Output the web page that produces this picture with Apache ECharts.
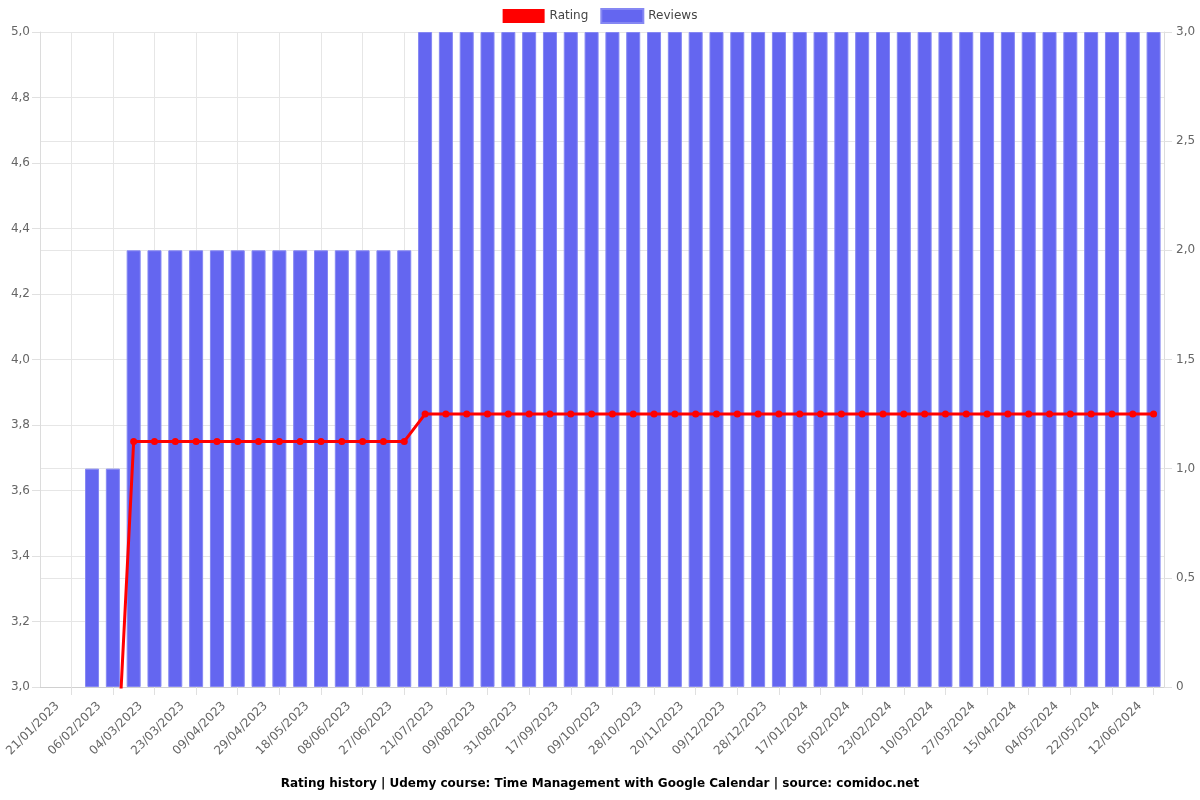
<!DOCTYPE html>
<html>
<head>
<meta charset="utf-8">
<script src="https://cdn.jsdelivr.net/npm/echarts@6/dist/echarts.min.js"></script>
<style>html,body{margin:0;padding:0;background:#fff}#c{width:1200px;height:800px}</style>
</head>
<body>
<div id="c"></div>
<script>
const categories = [
  '21/01/2023','29/01/2023','06/02/2023','20/02/2023','04/03/2023','13/03/2023',
  '23/03/2023','31/03/2023','09/04/2023','19/04/2023','29/04/2023','08/05/2023',
  '18/05/2023','28/05/2023','08/06/2023','17/06/2023','27/06/2023','09/07/2023',
  '21/07/2023','30/07/2023','09/08/2023','20/08/2023','31/08/2023','08/09/2023',
  '17/09/2023','28/09/2023','09/10/2023','18/10/2023','28/10/2023','08/11/2023',
  '20/11/2023','30/11/2023','09/12/2023','18/12/2023','28/12/2023','07/01/2024',
  '17/01/2024','26/01/2024','05/02/2024','14/02/2024','23/02/2024','02/03/2024',
  '10/03/2024','18/03/2024','27/03/2024','05/04/2024','15/04/2024','25/04/2024',
  '04/05/2024','13/05/2024','22/05/2024','01/06/2024','12/06/2024','20/06/2024'
];
const ratingValues = [
  null, null, 2.5, 2.5, 3.75, 3.75,
  3.75, 3.75, 3.75, 3.75, 3.75, 3.75,
  3.75, 3.75, 3.75, 3.75, 3.75, 3.75,
  3.8333, 3.8333, 3.8333, 3.8333, 3.8333, 3.8333,
  3.8333, 3.8333, 3.8333, 3.8333, 3.8333, 3.8333,
  3.8333, 3.8333, 3.8333, 3.8333, 3.8333, 3.8333,
  3.8333, 3.8333, 3.8333, 3.8333, 3.8333, 3.8333,
  3.8333, 3.8333, 3.8333, 3.8333, 3.8333, 3.8333,
  3.8333, 3.8333, 3.8333, 3.8333, 3.8333, 3.8333
];
const reviewValues = [
  null, null, 1, 1, 2, 2,
  2, 2, 2, 2, 2, 2,
  2, 2, 2, 2, 2, 2,
  3, 3, 3, 3, 3, 3,
  3, 3, 3, 3, 3, 3,
  3, 3, 3, 3, 3, 3,
  3, 3, 3, 3, 3, 3,
  3, 3, 3, 3, 3, 3,
  3, 3, 3, 3, 3, 3
];
const titleText = 'Rating history | Udemy course: Time Management with Google Calendar | source: comidoc.net';

const fmt = v => (v === 0 ? '0' : v.toFixed(1).replace('.', ','));
const oddIdx = i => i % 2 === 1;
const FONT = 'DejaVu Sans';

const chart = echarts.init(document.getElementById('c'), null, {renderer: 'canvas'});
chart.setOption({
  animation: false,
  backgroundColor: '#fff',
  textStyle: {fontFamily: FONT},
  title: {
    text: titleText, left: 'center', bottom: 5,
    textStyle: {fontFamily: FONT, fontSize: 12, fontWeight: 'bold', color: '#000'}
  },
  legend: {
    top: 3, left: 'center', itemWidth: 42, itemHeight: 14, itemGap: 12,
    textStyle: {fontFamily: FONT, fontSize: 12, color: '#444'},
    data: [
      {name: 'Rating', icon: 'rect', itemStyle: {color: '#ff0000'}},
      {name: 'Reviews', icon: 'rect', itemStyle: {color: '#6466f0'}}
    ]
  },
  grid: {left: 40, right: 36, top: 32, bottom: 113, containLabel: false, outerBoundsMode: 'none'},
  xAxis: {
    type: 'category', data: categories, boundaryGap: true,
    axisLine: {show: true, lineStyle: {color: '#d0d0d0'}},
    axisTick: {show: true, interval: oddIdx, alignWithLabel: true, length: 8, lineStyle: {color: '#e0e0e0'}},
    splitLine: {show: true, interval: oddIdx, alignWithLabel: true, lineStyle: {color: '#e6e6e6'}},
    axisLabel: {interval: 1, rotate: 45, fontSize: 12, color: '#666', fontFamily: FONT, margin: 10,
                verticalAlign: 'top', lineHeight: 20}
  },
  yAxis: [
    {
      type: 'value', min: 3, max: 5, interval: 0.2, position: 'left',
      axisLine: {show: true, lineStyle: {color: '#dcdcdc'}},
      axisTick: {show: true, length: 8, lineStyle: {color: '#e0e0e0'}},
      splitLine: {show: true, lineStyle: {color: '#e6e6e6'}},
      axisLabel: {formatter: fmt, fontSize: 12, color: '#666', fontFamily: FONT, margin: 10}
    },
    {
      type: 'value', min: 0, max: 3, interval: 0.5, position: 'right',
      axisLine: {show: true, lineStyle: {color: '#dcdcdc'}},
      axisTick: {show: true, length: 8, lineStyle: {color: '#e0e0e0'}},
      splitLine: {show: true, lineStyle: {color: '#e6e6e6'}},
      axisLabel: {formatter: fmt, fontSize: 12, color: '#666', fontFamily: FONT, margin: 12}
    }
  ],
  series: [
    {
      name: 'Rating', type: 'line', yAxisIndex: 0, data: ratingValues, z: 5,
      symbol: 'circle', symbolSize: 7, showAllSymbol: true, clip: true,
      lineStyle: {color: '#ff0000', width: 3},
      itemStyle: {color: '#ff0000'}
    },
    {
      name: 'Reviews', type: 'bar', yAxisIndex: 1, data: reviewValues, z: 2,
      barWidth: 14,
      itemStyle: {color: '#6466f0', borderColor: '#8587f3', borderWidth: 1}
    }
  ]
});
</script>
</body>
</html>
